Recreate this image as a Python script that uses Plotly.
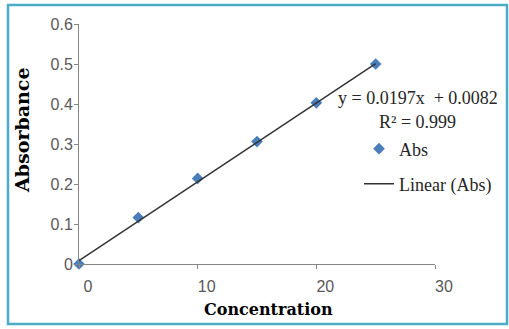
import plotly.graph_objects as go

# Data
concentration = [0, 5, 10, 15, 20, 25]
absorbance = [0.0, 0.116, 0.214, 0.306, 0.403, 0.500]
slope = 0.0197
intercept = 0.0082
fit_x = [0, 25]
fit_y = [slope * v + intercept for v in fit_x]
x_ticks = [0, 10, 20, 30]
y_ticks = [0, 0.1, 0.2, 0.3, 0.4, 0.5, 0.6]
y_tick_text = ["0", "0.1", "0.2", "0.3", "0.4", "0.5", "0.6"]

W, H = 509, 329
L, R, T, B = 79, 74, 24, 65
pw, ph = W - L - R, H - T - B


def px(x):
    return (x - L) / pw


def py(y):
    return (H - B - y) / ph


fig = go.Figure()
fig.add_trace(go.Scatter(
    x=concentration, y=absorbance, mode="markers", name="Abs",
    marker=dict(symbol="diamond", size=9, color="#4a7ebb"),
    legend="legend", cliponaxis=False,
))
fig.add_trace(go.Scatter(
    x=fit_x, y=fit_y, mode="lines", name="Linear (Abs)",
    line=dict(color="#333333", width=1.5),
    legend="legend2", cliponaxis=False,
))

serif = "Liberation Serif"
ann_font = dict(family=serif, size=18, color="#262626")
fig.update_layout(
    width=W, height=H,
    margin=dict(l=L, r=R, t=T, b=B, pad=0),
    paper_bgcolor="white", plot_bgcolor="white",
    showlegend=True,
    legend=dict(x=px(359), y=py(149), xanchor="left", yanchor="middle",
                font=ann_font, bgcolor="rgba(0,0,0,0)", borderwidth=0),
    legend2=dict(x=px(359), y=py(184), xanchor="left", yanchor="middle",
                 font=ann_font, bgcolor="rgba(0,0,0,0)", borderwidth=0),
    xaxis=dict(range=[0, 30], tickvals=x_ticks, showgrid=False, zeroline=False,
               showline=True, linecolor="#868686", linewidth=1,
               ticks="outside", ticklen=4, tickcolor="#868686",
               ticklabelshift=9, ticklabelstandoff=4,
               tickfont=dict(family="Liberation Sans", size=16, color="#595959")),
    yaxis=dict(range=[0, 0.6], tickvals=y_ticks, ticktext=y_tick_text,
               showgrid=False, zeroline=False,
               showline=True, linecolor="#868686", linewidth=1,
               ticks="outside", ticklen=4, tickcolor="#868686",
               ticklabelstandoff=-2,
               tickfont=dict(family="Liberation Sans", size=16, color="#595959")),
    annotations=[
        dict(text="y = 0.0197x  + 0.0082", x=px(417.5), y=py(98), xref="paper", yref="paper",
             xanchor="center", yanchor="middle", showarrow=False, font=ann_font),
        dict(text="R² = 0.999", x=px(417), y=py(122), xref="paper", yref="paper",
             xanchor="center", yanchor="middle", showarrow=False, font=ann_font),
        dict(text="<b>Concentration</b>", x=px(268), y=py(309), xref="paper", yref="paper",
             xanchor="center", yanchor="middle", showarrow=False,
             font=dict(family="DejaVu Serif", size=16, color="#000000")),
        dict(text="<b>Absorbance</b>", x=px(22), y=py(131), xref="paper", yref="paper",
             xanchor="center", yanchor="middle", showarrow=False, textangle=-90,
             font=dict(family="DejaVu Serif", size=19, color="#000000")),
    ],
    shapes=[
        dict(type="rect", xref="paper", yref="paper",
             x0=px(8), x1=px(507), y0=py(324), y1=py(5),
             line=dict(color="#4bacc6", width=2.5), fillcolor="rgba(0,0,0,0)",
             layer="below"),
    ],
)

fig.write_html("out.html", config={"displayModeBar": False},
               post_script="document.body.style.margin='0px';")
